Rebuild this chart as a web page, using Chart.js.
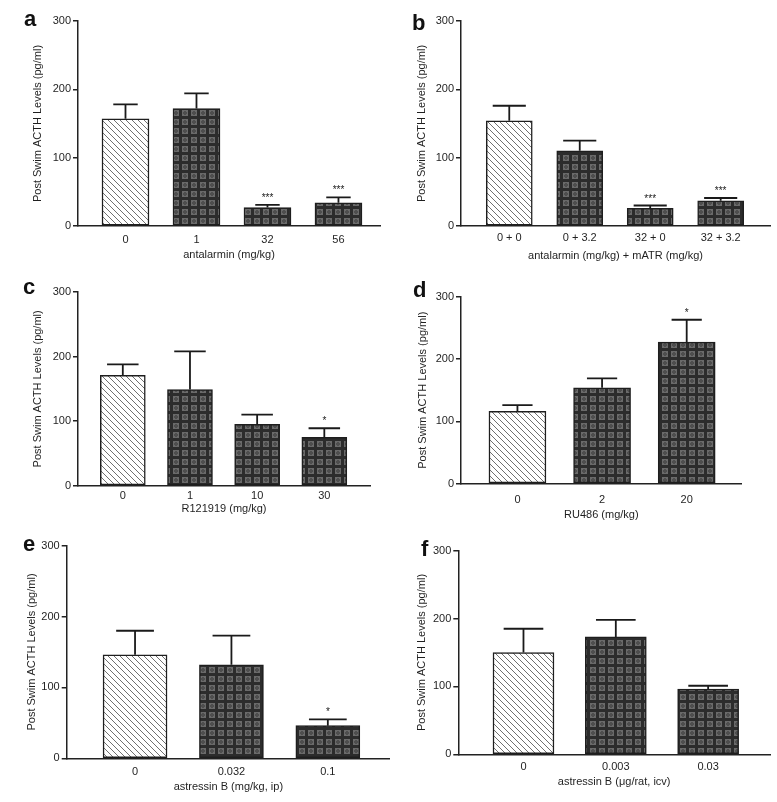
<!DOCTYPE html>
<html>
<head>
<meta charset="utf-8">
<title>Post swim ACTH levels</title>
<script src="https://cdn.jsdelivr.net/npm/chart.js@4.4.1/dist/chart.umd.min.js"></script>
<style>
    html, body { margin: 0; padding: 0; background: #fff; }
    #page { position: relative; width: 777px; height: 802px; overflow: hidden; }
    #page canvas { position: absolute; }
    .letter { position: absolute; font: bold 22px/22px "Liberation Sans", Arial, sans-serif; color: #111; }
</style>
</head>
<body>
<div id="page"></div>
<script>
// shared y axis
const yTitle = 'Post Swim ACTH Levels (pg/ml)';
const yTicks = [0, 100, 200, 300];

// a - antalarmin
const labelsA = ['0', '1', '32', '56'];
const meanA = [157, 172, 27, 34];
const semA = [21, 22, 4, 8];
const starsA = ['', '', '***', '***'];
const xTitleA = 'antalarmin (mg/kg)';

// b - antalarmin + mATR
const labelsB = ['0 + 0', '0 + 3.2', '32 + 0', '32 + 3.2'];
const meanB = [154, 110, 26, 37];
const semB = [22, 15, 4, 4];
const starsB = ['', '', '***', '***'];
const xTitleB = 'antalarmin (mg/kg) + mATR (mg/kg)';

// c - R121919
const labelsC = ['0', '1', '10', '30'];
const meanC = [171, 149, 95, 75];
const semC = [17, 59, 15, 14];
const starsC = ['', '', '', '*'];
const xTitleC = 'R121919 (mg/kg)';

// d - RU486
const labelsD = ['0', '2', '20'];
const meanD = [116, 154, 227];
const semD = [10, 15, 36];
const starsD = ['', '', '*'];
const xTitleD = 'RU486 (mg/kg)';

// e - astressin B ip
const labelsE = ['0', '0.032', '0.1'];
const meanE = [146, 132, 46];
const semE = [34, 41, 9];
const starsE = ['', '', '*'];
const xTitleE = 'astressin B (mg/kg, ip)';

// f - astressin B icv
const labelsF = ['0', '0.003', '0.03'];
const meanF = [150, 173, 96];
const semF = [35, 25, 5];
const starsF = ['', '', ''];
const xTitleF = 'astressin B (\u03bcg/rat, icv)';

// layout only: box = canvas rect, area = plot rect (page coords)
const panels =
[
    { letter: 'a', labels: labelsA, mean: meanA, sem: semA, stars: starsA, xTitle: xTitleA,
      box: [0, 0, 390, 268], area: [78, 21, 380, 226], xRange: [-0.669, 3.585], bar: 47, cap: 0.52,
      yTitleX: 38, xTitleY: 255, tickPad: 7, letterAt: [24, 27] },
    { letter: 'b', labels: labelsB, mean: meanB, sem: semB, stars: starsB, xTitle: xTitleB,
      box: [390, 0, 387, 268], area: [461, 21, 770, 226], xRange: [-0.685, 3.70], bar: 46, cap: 0.72,
      yTitleX: 421.7, xTitleY: 256, tickPad: 5, letterAt: [412, 31] },
    { letter: 'c', labels: labelsC, mean: meanC, sem: semC, stars: starsC, xTitle: xTitleC,
      box: [0, 268, 390, 262], area: [78, 292, 370, 485.7], xRange: [-0.667, 3.68], bar: 45, cap: 0.7,
      yTitleX: 38.3, xTitleY: 509.3, tickPad: 4, letterAt: [23, 295] },
    { letter: 'd', labels: labelsD, mean: meanD, sem: semD, stars: starsD, xTitle: xTitleD,
      box: [390, 268, 387, 262], area: [461, 296.7, 741.7, 483.7], xRange: [-0.667, 2.65], bar: 57, cap: 0.53,
      yTitleX: 423.3, xTitleY: 515, tickPad: 10, letterAt: [413, 298] },
    { letter: 'e', labels: labelsE, mean: meanE, sem: semE, stars: starsE, xTitle: xTitleE,
      box: [0, 530, 390, 272], area: [66.7, 545.7, 390, 758.3], xRange: [-0.709, 2.645], bar: 64, cap: 0.59,
      yTitleX: 31.7, xTitleY: 786.7, tickPad: 7, letterAt: [23, 552] },
    { letter: 'f', labels: labelsF, mean: meanF, sem: semF, stars: starsF, xTitle: xTitleF,
      box: [390, 530, 387, 272], area: [458.3, 550.7, 770, 754.3], xRange: [-0.706, 2.67], bar: 61, cap: 0.65,
      yTitleX: 421.7, xTitleY: 781.7, tickPad: 6, letterAt: [421, 557] }
];

Chart.defaults.font.family = '"Liberation Sans", Arial, sans-serif';
Chart.defaults.font.size = 11;
Chart.defaults.color = '#1f1f1f';

const HALF_LINE = 6.6; // half of 11px * 1.2 line height

// white with "\" hatching, used for the vehicle bar
function makeHatchTile()
{
    const c = document.createElement('canvas');
    c.width = 6;
    c.height = 6;
    const g = c.getContext('2d');
    g.fillStyle = '#fff';
    g.fillRect(0, 0, 6, 6);
    g.strokeStyle = '#707070';
    g.lineWidth = 1;
    for (const k of [-6, 0, 6])
    {
        g.beginPath();
        g.moveTo(k, 0);
        g.lineTo(k + 6, 6);
        g.stroke();
    }
    return c;
}

// dark grid with lighter cells, used for drug bars
function makeCheckTile()
{
    const c = document.createElement('canvas');
    c.width = 9;
    c.height = 9;
    const g = c.getContext('2d');
    g.fillStyle = '#2c2c2c';
    g.fillRect(0, 0, 9, 9);
    g.fillStyle = '#6a6a6a';
    g.fillRect(2, 2, 6, 6);
    g.fillStyle = '#4e4e4e';
    g.fillRect(4, 3, 2, 4);
    g.fillRect(3, 4, 4, 2);
    return c;
}

const hatchTile = makeHatchTile();
const checkTile = makeCheckTile();

const errorBarPlugin =
{
    id: 'errorBars',
    afterDatasetsDraw(chart, args, opts)
    {
        const ctx = chart.ctx;
        const xs = chart.scales.x;
        const ys = chart.scales.y;
        const half = opts.bar * opts.cap / 2;

        ctx.save();
        ctx.strokeStyle = '#1a1a1a';
        ctx.lineWidth = 1.8;
        ctx.fillStyle = '#1a1a1a';
        ctx.font = '10px "Liberation Sans", Arial, sans-serif';
        ctx.textAlign = 'center';
        ctx.textBaseline = 'alphabetic';

        opts.mean.forEach((m, i) =>
        {
            const x = xs.getPixelForValue(i);
            const yBar = ys.getPixelForValue(m);
            const yTop = ys.getPixelForValue(m + opts.sem[i]);

            ctx.beginPath();
            ctx.moveTo(x, yBar);
            ctx.lineTo(x, yTop);
            ctx.moveTo(x - half, yTop);
            ctx.lineTo(x + half, yTop);
            ctx.stroke();

            if (opts.stars[i])
            {
                ctx.fillText(opts.stars[i], x, yTop - 4);
            }
        });

        ctx.restore();
    }
};

const page = document.getElementById('page');

function buildPanel(p)
{
    const [bx, by, bw, bh] = p.box;
    const left = p.area[0] - bx;
    const top = p.area[1] - by;
    const right = p.area[2] - bx;
    const bottom = p.area[3] - by;

    const canvas = document.createElement('canvas');
    canvas.width = bw;
    canvas.height = bh;
    canvas.style.left = bx + 'px';
    canvas.style.top = by + 'px';
    page.appendChild(canvas);

    const ctx = canvas.getContext('2d');
    const hatch = ctx.createPattern(hatchTile, 'repeat');
    const check = ctx.createPattern(checkTile, 'repeat');

    new Chart(ctx,
    {
        type: 'bar',
        data:
        {
            datasets:
            [
                {
                    data: p.mean.map((v, i) => ({ x: i, y: v })),
                    backgroundColor: p.mean.map((v, i) => i == 0 ? hatch : check),
                    borderColor: '#1e1e1e',
                    borderWidth: 1.5,
                    borderSkipped: false,
                    barThickness: p.bar
                }
            ]
        },
        options:
        {
            responsive: false,
            animation: false,
            devicePixelRatio: 1,
            layout:
            {
                padding: { left: 0, top: top, right: bw - right, bottom: 0 }
            },
            plugins:
            {
                legend: { display: false },
                tooltip: { enabled: false },
                errorBars: { mean: p.mean, sem: p.sem, stars: p.stars, bar: p.bar, cap: p.cap }
            },
            scales:
            {
                x:
                {
                    type: 'linear',
                    offset: false,
                    min: p.xRange[0],
                    max: p.xRange[1],
                    grid: { display: false, drawTicks: false, offset: false },
                    border: { display: true, color: '#222', width: 1.5 },
                    afterBuildTicks: s => { s.ticks = p.labels.map((l, i) => ({ value: i })); },
                    afterFit: s => { s.height = bh - bottom; },
                    ticks:
                    {
                        padding: p.tickPad,
                        autoSkip: false,
                        maxRotation: 0,
                        callback: v => p.labels[v]
                    },
                    title:
                    {
                        display: true,
                        text: p.xTitle,
                        padding: { top: 0, bottom: bh - (p.xTitleY - by) - HALF_LINE }
                    }
                },
                y:
                {
                    min: 0,
                    max: 300,
                    afterBuildTicks: s => { s.ticks = yTicks.map(v => ({ value: v })); },
                    afterFit: s => { s.width = left; },
                    grid: { drawOnChartArea: false, tickLength: 5, color: '#222', lineWidth: 1.5 },
                    border: { display: true, color: '#222', width: 1.5 },
                    ticks: { padding: 2 },
                    title:
                    {
                        display: true,
                        text: yTitle,
                        padding: { top: p.yTitleX - bx - HALF_LINE, bottom: 0 }
                    }
                }
            }
        },
        plugins: [errorBarPlugin]
    });

    const letter = document.createElement('div');
    letter.className = 'letter';
    letter.textContent = p.letter;
    letter.style.left = p.letterAt[0] + 'px';
    letter.style.top = (p.letterAt[1] - 18.6) + 'px';
    page.appendChild(letter);
}

panels.forEach(buildPanel);
</script>
</body>
</html>
